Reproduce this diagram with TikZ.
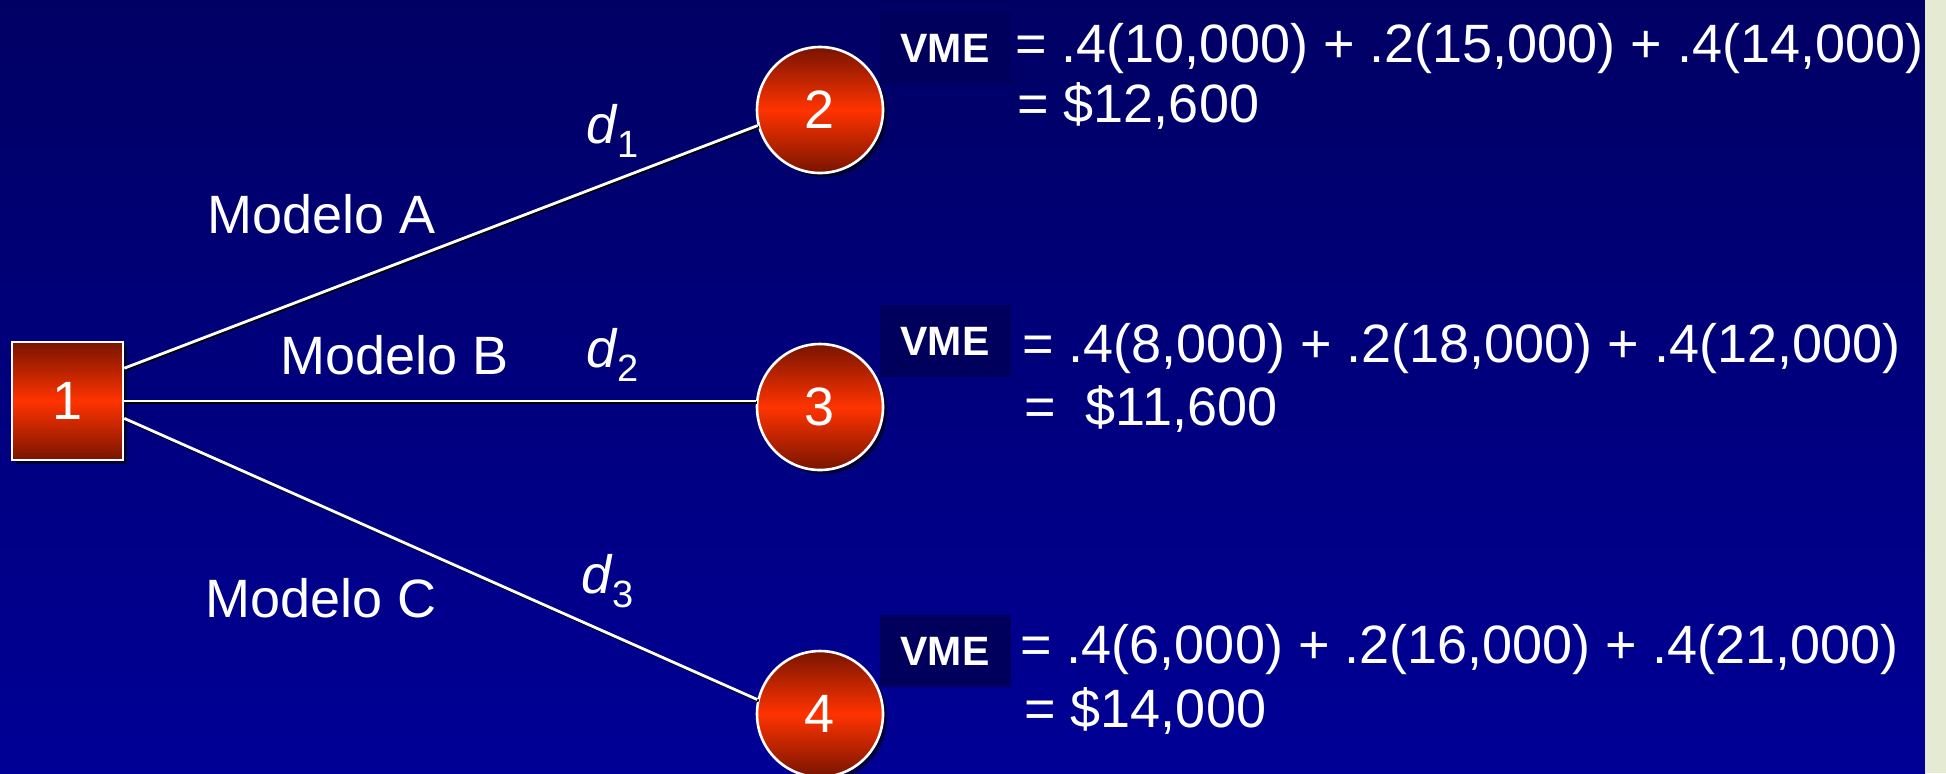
\documentclass[tikz,border=0pt]{standalone}
\usepackage{fontspec}
\setmainfont{Liberation Sans}
\usetikzlibrary{shadows}
\definecolor{bgtop}{RGB}{0,0,100}
\definecolor{bgbot}{RGB}{0,0,150}
\definecolor{stripcol}{RGB}{228,235,210}
\definecolor{boxcol}{RGB}{0,0,92}
\definecolor{nodedark}{RGB}{120,20,0}
\definecolor{nodemid}{RGB}{255,51,0}
\tikzset{
  nodebase/.style={draw=white, line width=1.3pt, top color=nodedark, bottom color=nodedark,
    middle color=nodemid, text=white, inner sep=0pt, font=\fontsize{27}{27}\selectfont,
    drop shadow={shadow xshift=2pt, shadow yshift=-2pt, fill=black, opacity=0.6}},
  sqnode/.style={nodebase, rectangle, minimum width=55.5pt, minimum height=59pt},
  circnode/.style={nodebase, circle, minimum size=63pt},
  conn/.style={draw=white, line width=1.4pt,
    preaction={draw=black, line width=1.4pt, transform canvas={xshift=0.7pt, yshift=-0.7pt}}},
  lbl/.style={text=white, inner sep=0pt, anchor=base west, font=\fontsize{27}{27}\selectfont},
  vmebox/.style={fill=boxcol, text=white, inner sep=0pt, minimum width=65.5pt, minimum height=36pt,
    font=\fontsize{20.5}{20.5}\selectfont\bfseries}
}
\newcommand{\subnum}[1]{\raisebox{-7pt}{\fontsize{19}{19}\selectfont #1}}
\begin{document}
\begin{tikzpicture}[x=0.5pt,y=-0.5pt]
\useasboundingbox (0,0) rectangle (1946,773);
\shade[top color=bgtop, bottom color=bgbot] (0,0) rectangle (1925,773);
\fill[stripcol] (1925,0) rectangle (1946,773);

\node[sqnode] (n1) at (67.5,401) {1};
\node[circnode] (n2) at (820,110) {2};
\node[circnode] (n3) at (820,407) {3};
\node[circnode] (n4) at (820,714) {4};

\draw[conn] (n1.30) -- (n2.194);
\draw[conn] (n1.east) -- (n1.east -| n3.west);
\draw[conn] (n1.-17) -- (n4.167);

\node[lbl] (la) at (207,233) {Modelo A};
\node[lbl] (lb) at (280,374) {Modelo B};
\node[lbl] (lc) at (205,617) {Modelo C};
\node[lbl] (d1) at (586,143) {\textit{d}\subnum{1}};
\node[lbl] (d2) at (586,367) {\textit{d}\subnum{2}};
\node[lbl] (d3) at (581,593) {\textit{d}\subnum{3}};

\node[vmebox] (v1) at (945,48) {VME};
\node[vmebox] (v2) at (945,341) {VME};
\node[vmebox] (v3) at (945,651) {VME};

\node[lbl] (e1a) at (1015,62) {= .4(10,000) + .2(15,000) + .4(14,000)};
\node[lbl] (e1b) at (1017,122) {= \$12,600};
\node[lbl] (e2a) at (1022,362) {= .4(8,000) + .2(18,000) + .4(12,000)};
\node[lbl] (e2b) at (1024,425) {=\ \ \$11,600};
\node[lbl] (e3a) at (1020,663) {= .4(6,000) + .2(16,000) + .4(21,000)};
\node[lbl] (e3b) at (1024,727) {= \$14,000};
\end{tikzpicture}
\end{document}
